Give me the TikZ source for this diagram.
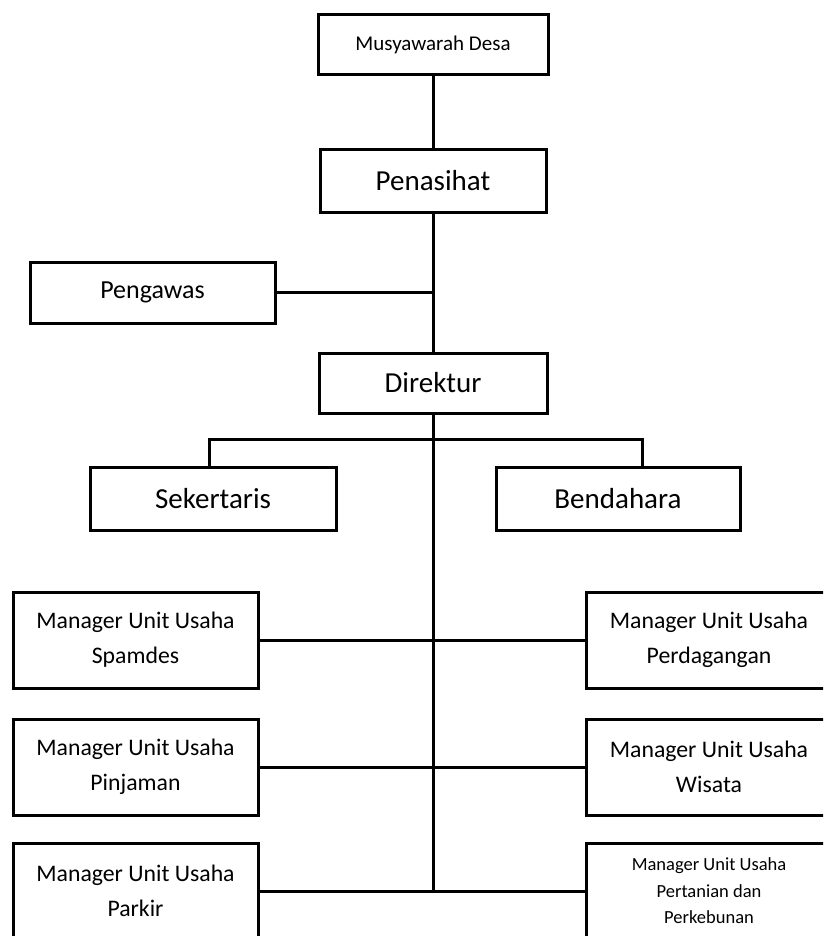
\documentclass[tikz,border=0pt]{standalone}
\usepackage{fontspec}
\setmainfont{Carlito}
\usepackage{tikz}

\tikzset{
  box/.style={rectangle,draw,line width=3pt,inner sep=0pt,align=center},
  unit/.style={box,minimum width=245pt,minimum height=96pt,font=\fontsize{23.75}{35}\selectfont},
  link/.style={line width=3pt}
}

\begin{document}
\begin{tikzpicture}[x=1pt,y=-1pt]
\clip (0,0) rectangle (823,936);
\fill[white] (0,0) rectangle (823,936);
\node[box,minimum width=230pt,minimum height=60pt,font=\fontsize{21}{25}\selectfont] at (433,45) (mdesa) {Musyawarah Desa};
\node[box,minimum width=226pt,minimum height=62pt,font=\fontsize{29}{34}\selectfont] at (433,181) (penasihat) {Penasihat};
\node[box,minimum width=245pt,minimum height=61pt,font=\fontsize{26}{31}\selectfont] at (152.5,292.5) (pengawas) {Pengawas};
\node[box,minimum width=228pt,minimum height=60pt,font=\fontsize{29}{34}\selectfont] at (433,383) (direktur) {Direktur};
\node[box,minimum width=246pt,minimum height=63pt,font=\fontsize{29}{34}\selectfont] at (213,498.5) (sekertaris) {Sekertaris};
\node[box,minimum width=244pt,minimum height=63pt,font=\fontsize{29}{34}\selectfont] at (618,498.5) (bendahara) {Bendahara};
\node[unit] at (135.5,640) (spamdes) {Manager Unit Usaha\\Spamdes};
\node[unit] at (709,640) (perdagangan) {Manager Unit Usaha\\Perdagangan};
\node[unit] at (135.5,767) (pinjaman) {Manager Unit Usaha\\Pinjaman};
\node[unit] at (709,767) (wisata) {Manager Unit Usaha\\Wisata};
\node[unit] at (135.5,891) (parkir) {Manager Unit Usaha\\Parkir};
\node[unit,font=\fontsize{18.5}{26.5}\selectfont] at (709,891) (pertanian) {Manager Unit Usaha\\Pertanian dan\\Perkebunan};
\coordinate (bar) at (433,439);
\coordinate (trunk) at (433,891);
\draw[link] (mdesa)--(penasihat)--(direktur);
\draw[link] (pengawas.east)--(pengawas.east -| penasihat.south);
\draw[link] (direktur)--(trunk);
\draw[link] ([xshift=-4pt]sekertaris.north) |- (bar) -| ([xshift=24pt]bendahara.north);
\draw[link] (spamdes)--(perdagangan);
\draw[link] (pinjaman)--(wisata);
\draw[link] (parkir)--(pertanian);
\end{tikzpicture}
\end{document}
